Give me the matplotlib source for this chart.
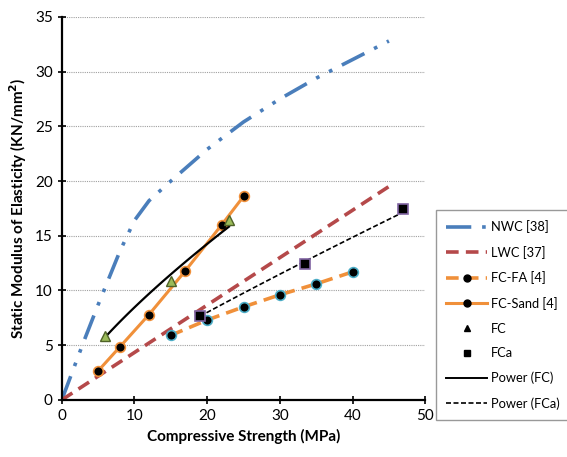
import numpy as np
import matplotlib
matplotlib.use("Agg")
import matplotlib.pyplot as plt
from matplotlib.lines import Line2D

plt.rcParams['font.family'] = ['Lato', 'DejaVu Sans']

# Data
nwc_x = [0, 3, 5, 8, 10, 12, 15, 20, 25, 30, 35, 40, 45]
nwc_y = [0, 5.3, 8.7, 13.6, 16.4, 18.2, 20.0, 22.9, 25.4, 27.5, 29.4, 31.1, 32.8]
lwc_x = [0, 45]
lwc_y = [0, 19.5]
fcfa_x = [15, 20, 25, 30, 35, 40]
fcfa_y = [5.9, 7.3, 8.5, 9.6, 10.6, 11.7]
fcsand_x = [5, 8, 12, 17, 22, 25]
fcsand_y = [2.65, 4.85, 7.8, 11.8, 16.0, 18.6]
fc_x = [6, 15, 23]
fc_y = [5.85, 10.9, 16.4]
fca_x = [19, 33.5, 47]
fca_y = [7.7, 12.4, 17.4]

def power_fit(x, y):
    b, lna = np.polyfit(np.log(x), np.log(y), 1)
    return np.exp(lna), b

fig = plt.figure(figsize=(5.67, 4.57), dpi=100)
ax = fig.add_axes([0.109, 0.125, 0.641, 0.838])

ax.plot(nwc_x, nwc_y, color='#4A7EBB', lw=2.6, dashes=(7, 3, 1, 3, 1, 3), label='NWC [38]')
ax.plot(lwc_x, lwc_y, color='#B5494A', lw=2.6, dashes=(3.5, 2), label='LWC [37]')
ax.plot(fcfa_x, fcfa_y, color='#F0903A', lw=2.6, dashes=(3.5, 2), marker='o', ms=7,
        mfc='black', mec='#4BACC6', mew=1.2, label='FC-FA [4]')
ax.plot(fcsand_x, fcsand_y, color='#F0903A', lw=2.2, marker='o', ms=7,
        mfc='black', mec='#F0903A', mew=1.2, label='FC-Sand [4]')

a1, b1 = power_fit(fc_x, fc_y)
xx1 = np.linspace(min(fc_x), max(fc_x), 50)
a2, b2 = power_fit(fca_x, fca_y)
xx2 = np.linspace(min(fca_x), max(fca_x), 50)
ax.plot(xx1, a1 * xx1 ** b1, color='black', lw=1.6, label='Power (FC)')
ax.plot(xx2, a2 * xx2 ** b2, color='black', lw=1.2, dashes=(3, 1.5), label='Power (FCa)')

ax.plot(fc_x, fc_y, ls='none', marker='^', ms=7, mfc='#9BBB59', mec='#4F6228', mew=1.0, label='FC', zorder=5)
ax.plot(fca_x, fca_y, ls='none', marker='s', ms=7, mfc='black', mec='#8064A2', mew=1.2, label='FCa', zorder=5)

ax.set_xlim(0, 50)
ax.set_ylim(0, 35)
ax.set_xticks(range(0, 51, 10))
ax.set_yticks(range(0, 36, 5))
ax.yaxis.grid(True, color='#A0A0A0', ls=(0, (1, 1)), lw=0.8)
ax.set_axisbelow(True)
for s in ['top', 'right']:
    ax.spines[s].set_visible(False)
for s in ['left', 'bottom']:
    ax.spines[s].set_linewidth(1.6)
ax.tick_params(axis='both', labelsize=11, colors='black', width=1.2)
ax.tick_params(axis='y', direction='inout', length=6)
ax.tick_params(axis='x', direction='inout', length=6)
ax.set_xlabel('Compressive Strength (MPa)', fontsize=11, fontweight='bold')
ax.set_ylabel('Static Modulus of Elasticity (KN/mm$^\\mathbf{2}$)', fontsize=11, fontweight='bold')

handles = [
    Line2D([], [], color='#4A7EBB', lw=2.6, dashes=(7, 3, 1, 3)),
    Line2D([], [], color='#B5494A', lw=2.6, dashes=(3.5, 2)),
    Line2D([], [], color='#F0903A', lw=2.6, dashes=(3.5, 2), marker='o', ms=5, mfc='black', mec='black'),
    Line2D([], [], color='#F0903A', lw=2.2, marker='o', ms=5, mfc='black', mec='black'),
    Line2D([], [], ls='none', marker='^', ms=5, mfc='black', mec='black'),
    Line2D([], [], ls='none', marker='s', ms=5, mfc='black', mec='black'),
    Line2D([], [], color='black', lw=1.4),
    Line2D([], [], color='black', lw=1.2, dashes=(3, 1.5)),
]
labels = ['NWC [38]', 'LWC [37]', 'FC-FA [4]', 'FC-Sand [4]', 'FC', 'FCa', 'Power (FC)', 'Power (FCa)']
leg = fig.legend(handles, labels, loc='upper left', bbox_to_anchor=(0.757, 0.555),
                 fontsize=9.3, frameon=True, fancybox=False, edgecolor='#808080',
                 handlelength=3.2, labelspacing=0.98, borderpad=0.8, handletextpad=0.3)
leg.get_frame().set_linewidth(1.0)

fig.savefig('out.png', dpi=100)
